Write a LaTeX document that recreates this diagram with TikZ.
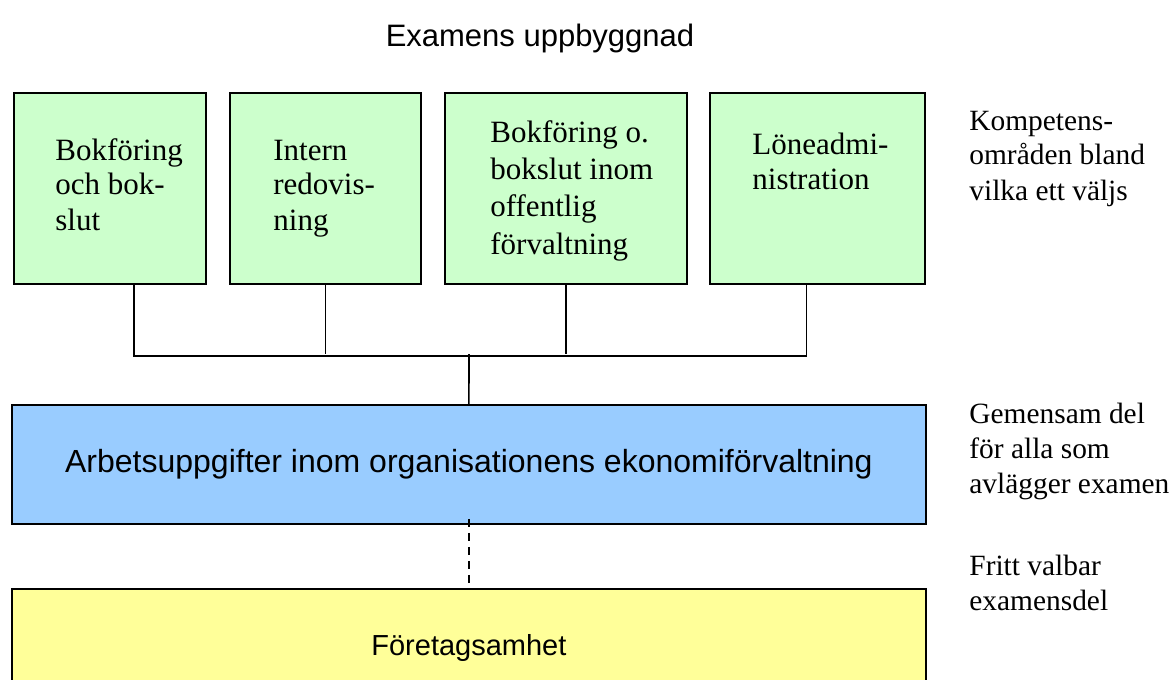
\documentclass[tikz,border=0pt]{standalone}
\usepackage{fontspec}
\setmainfont{Liberation Serif}
\setsansfont{Liberation Sans}
\usepackage{tikz}
\usetikzlibrary{calc}
\definecolor{compgreen}{HTML}{CCFFCC}
\definecolor{commonblue}{HTML}{99CCFF}
\definecolor{freeyellow}{HTML}{FFFF99}
\tikzset{
    area/.style={draw=black, line width=0.9pt, anchor=north west, inner sep=0pt},
    comp/.style={area, fill=compgreen, minimum height=95.5pt},
    boxlabel/.style={anchor=base west, align=left, inner sep=0pt,
        font=\fontsize{15.5}{17.5}\selectfont},
    sidelabel/.style={boxlabel, font=\fontsize{14.7}{17.5}\selectfont},
    sanslabel/.style={font=\sffamily\fontsize{15.5}{18}\selectfont},
    conn/.style={line width=0.8pt},
}

\begin{document}
\begin{tikzpicture}[x=0.5pt,y=-0.5pt]
    \clip (0,0) rectangle (1176,679);
    \node[sanslabel, anchor=base] (titel) at (540,47) {Examens uppbyggnad};
    % kompetensomraden
    \node[comp, minimum width=96pt] (bok) at (13,92) {};
    \node[comp, minimum width=95.5pt] (int) at (229,92) {};
    \node[comp, minimum width=121pt] (off) at (444,92) {};
    \node[comp, minimum width=107.5pt] (lon) at (709,92) {};
    \node[boxlabel] (bok-t) at (55,230) {Bokföring\\och bok-\\slut};
    \node[boxlabel] (int-t) at (273,230) {Intern\\redovis-\\ning};
    \node[boxlabel, font=\fontsize{15.5}{18.5}\selectfont] (off-t) at (490,254)
        {Bokföring o.\\bokslut inom\\offentlig\\förvaltning};
    \node[boxlabel] (lon-t) at (752,190) {Löneadmi-\\nistration};
    % gemensam del och fritt valbar del
    \node[area, sanslabel, font=\sffamily\fontsize{16}{18}\selectfont, fill=commonblue,
        minimum width=457pt, minimum height=59.5pt]
        (gem) at (11,404) {Arbetsuppgifter inom organisationens ekonomiförvaltning};
    \node[area, sanslabel, font=\sffamily\fontsize{14.5}{18}\selectfont, fill=freeyellow,
        minimum width=457pt, minimum height=59pt]
        (fri) at (11,588) {Företagsamhet};
    \coordinate (bus) at (469,354);
    \draw[conn] ([xshift=12pt]bok.south) -- ++(0,71) -| ([xshift=-5.5pt]lon.south);
    \draw[conn] (int.south) -- (int.south |- bus);
    \draw[conn] (off.south) -- (off.south |- bus);
    \draw[conn] (bus) -- (gem.north);
    \draw[conn, dash pattern=on 4pt off 3pt] ([yshift=3pt]gem.south) -- (fri.north);
    % texter till hoger
    \node[sidelabel] (kom) at (969,200) {Kompetens-\\områden bland\\vilka ett väljs};
    \node[sidelabel] (gem-t) at (969,493) {Gemensam del\\för alla som\\avlägger examen};
    \node[sidelabel] (fri-t) at (969,610) {Fritt valbar\\examensdel};
\end{tikzpicture}
\end{document}
